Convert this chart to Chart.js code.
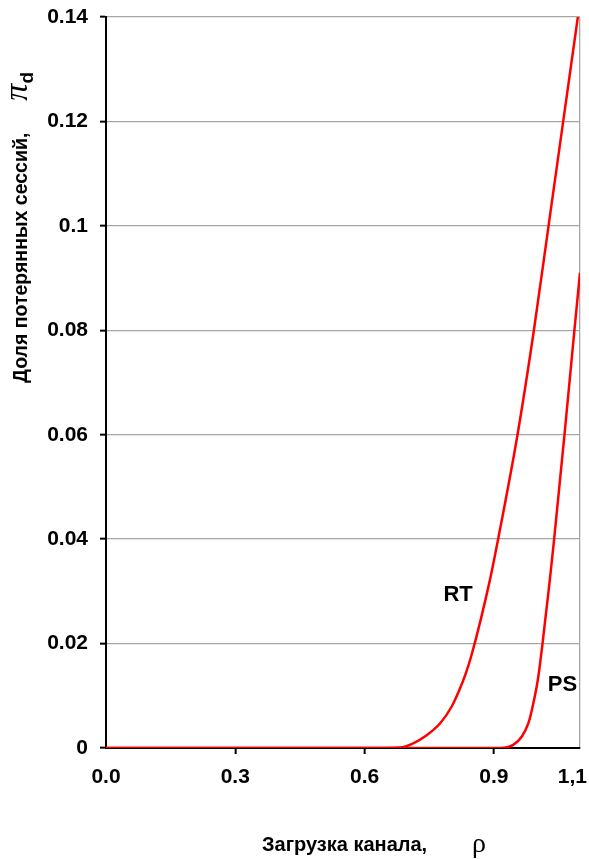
<!DOCTYPE html>
<html lang="ru">
<head>
<meta charset="UTF-8">
<title>Доля потерянных сессий</title>
<script src="https://cdn.jsdelivr.net/npm/chart.js"></script>
<style>
  html, body { margin: 0; padding: 0; background: #fff; }
  canvas { display: block; }
</style>
</head>
<body>
<canvas id="lossChart" width="589" height="859"></canvas>
<script>
// values
const xTicks = [0, 0.3, 0.6, 0.9, 1.1];
const xTickLabels = ['0.0', '0.3', '0.6', '0.9', '1,1'];
const yTicks = [0, 0.02, 0.04, 0.06, 0.08, 0.1, 0.12, 0.14];

const rtRho  = [0, 0.62, 0.682, 0.713, 0.740, 0.775, 0.802, 0.820, 0.835, 0.849, 0.891, 0.910, 0.955, 0.993, 1.027, 1.061, 1.095];
const rtLoss = [0, 0, 0.0001, 0.0009, 0.0022, 0.0047, 0.0079, 0.0111, 0.0143, 0.0180, 0.0322, 0.0400, 0.0600, 0.0800, 0.1000, 0.1200, 0.1400];

const psRho  = [0, 0.914, 0.945, 0.965, 0.980, 0.990, 1.003, 1.013, 1.030, 1.040, 1.064, 1.087, 1.100];
const psLoss = [0, 0, 0.0006, 0.0022, 0.0047, 0.0079, 0.0135, 0.0200, 0.0322, 0.0400, 0.0600, 0.0800, 0.0910];

const curveNames = ['RT', 'PS'];

const FONT = '"Liberation Sans", Arial, sans-serif';
const SERIF = '"Liberation Serif", "Times New Roman", serif';

// axis titles, x tick labels and curve names
const textPlugin = {
  id: 'texts',
  afterDraw(chart) {
    const { ctx, scales: { x, y } } = chart;
    ctx.save();
    ctx.fillStyle = '#000';
    ctx.textBaseline = 'alphabetic';

    // x tick labels (the last one sits left of its tick)
    ctx.font = 'bold 21px ' + FONT;
    xTicks.forEach((v, i) => {
      const last = i === xTicks.length - 1;
      ctx.textAlign = last ? 'right' : 'center';
      ctx.fillText(xTickLabels[i], x.getPixelForValue(v) + (last ? 7 : 0), y.bottom + 35);
    });

    // curve names
    ctx.font = 'bold 22px ' + FONT;
    ctx.textAlign = 'center';
    ctx.fillText(curveNames[0], x.getPixelForValue(0.817), y.getPixelForValue(0.0281));
    ctx.fillText(curveNames[1], x.getPixelForValue(1.0594), y.getPixelForValue(0.0109));

    // x title
    ctx.textAlign = 'left';
    ctx.font = 'bold 20px ' + FONT;
    ctx.fillText('Загрузка канала,', 262, 851);
    ctx.font = '28px ' + SERIF;
    ctx.fillText('ρ', 472, 852);

    // y title, rotated
    ctx.translate(27, 383);
    ctx.rotate(-Math.PI / 2);
    ctx.font = 'bold 19.5px ' + FONT;
    const main = 'Доля потерянных сессий,';
    ctx.fillText(main, 0, 0);
    const w = ctx.measureText(main).width;
    ctx.font = 'italic 34px ' + SERIF;
    ctx.fillText('π', w + 32, 0);
    const wp = ctx.measureText('π').width;
    ctx.font = 'bold 19px ' + FONT;
    ctx.fillText('d', w + 32 + wp, 6);
    ctx.restore();
  }
};

new Chart(document.getElementById('lossChart'), {
  type: 'line',
  data: {
    datasets: [
      {
        label: curveNames[0],
        data: rtRho.map((r, i) => ({ x: r, y: rtLoss[i] })),
        borderColor: '#ff0000',
        borderWidth: 2.5,
        pointRadius: 0,
        cubicInterpolationMode: 'monotone',
        fill: false
      },
      {
        label: curveNames[1],
        data: psRho.map((r, i) => ({ x: r, y: psLoss[i] })),
        borderColor: '#ff0000',
        borderWidth: 2.5,
        pointRadius: 0,
        cubicInterpolationMode: 'monotone',
        fill: false
      }
    ]
  },
  options: {
    responsive: false,
    animation: false,
    layout: { padding: { top: 17, right: 9, left: 0, bottom: 0 } },
    plugins: { legend: { display: false }, tooltip: { enabled: false } },
    scales: {
      x: {
        type: 'linear',
        min: 0,
        max: 1.1,
        afterBuildTicks: s => { s.ticks = xTicks.map(v => ({ value: v })); },
        afterFit: s => { s.height = 111; s.paddingLeft = 0; s.paddingRight = 0; },
        ticks: { display: false },
        grid: {
          color: c => (c.tick && c.tick.value === 1.1 ? '#a6a6a6' : 'rgba(0,0,0,0)'),
          tickColor: c => (c.tick && (c.tick.value === 0 || c.tick.value === 1.1) ? 'rgba(0,0,0,0)' : '#000'),
          tickLength: 6,
          lineWidth: 1.3,
          tickWidth: 2
        },
        border: { color: '#000', width: 2 }
      },
      y: {
        min: 0,
        max: 0.14,
        afterBuildTicks: s => { s.ticks = yTicks.map(v => ({ value: v })); },
        afterFit: s => { s.width = 106; s.paddingTop = 0; s.paddingBottom = 0; },
        ticks: {
          color: '#000',
          padding: 12,
          font: { family: FONT, size: 21, weight: 'bold' },
          callback: v => (v === 0 ? '0' : String(+v.toFixed(2)))
        },
        grid: { color: '#a6a6a6', lineWidth: 1.3, tickColor: '#000', tickLength: 6, tickWidth: 2 },
        border: { color: '#000', width: 2 }
      }
    }
  },
  plugins: [textPlugin]
});
</script>
</body>
</html>
